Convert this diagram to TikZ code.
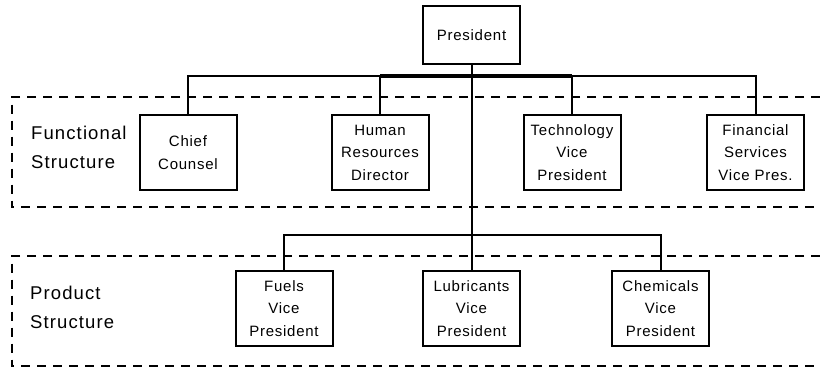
\documentclass[tikz,border=0pt]{standalone}
\usepackage{fontspec}
\setmainfont{Liberation Sans}
\newfontfamily\boxfont[LetterSpace=5]{Liberation Sans}
\newfontfamily\labelfont[LetterSpace=6]{Liberation Sans}
\begin{document}
\begin{tikzpicture}[x=1pt,y=-1pt,
  orgbox/.style={draw, line width=2pt, minimum width=97pt, minimum height=75pt,
    inner sep=0pt, align=center, font=\boxfont\fontsize{15}{22.5}\selectfont},
  topbox/.style={orgbox, minimum height=58pt},
  wire/.style={line width=2pt},
  heavywire/.style={line width=4pt},
  zone/.style={line width=2pt, dash pattern=on 9pt off 7pt},
  zonelabel/.style={anchor=west, inner sep=0pt, align=left,
    font=\labelfont\fontsize{18.5}{29}\selectfont}]
\useasboundingbox (0,0) rectangle (820,368);

% dashed zones (open on the right)
\coordinate (z1a) at (820,97);  \coordinate (z1b) at (11.5,97);
\coordinate (z1c) at (11.5,207); \coordinate (z1d) at (820,207);
\coordinate (z2a) at (820,256); \coordinate (z2b) at (11.5,256);
\coordinate (z2c) at (11.5,366); \coordinate (z2d) at (820,366);
\draw[zone] (z1a) -- (z1b) -- (z1c) -- (z1d);
\draw[zone] (z2a) -- (z2b) -- (z2c) -- (z2d);

\node[zonelabel] (flab) at (31,147.5) {Functional\\Structure};
\node[zonelabel] (plab) at (30,307.5) {Product\\Structure};

% boxes
\node[topbox] (pres) at (471.5,35) {President};
\node[orgbox, fill=white] (cc)   at (188,152.5)   {Chief\\Counsel};
\node[orgbox, fill=white] (hr)   at (380,152.5)   {Human\\Resources\\Director};
\node[orgbox, fill=white] (tech) at (572,152.5)   {Technology\\Vice\\President};
\node[orgbox, fill=white] (fin)  at (755.5,152.5) {Financial\\Services\\Vice Pres.};
\node[orgbox, fill=white] (fuel) at (284,308.5)   {Fuels\\Vice\\President};
\node[orgbox, fill=white] (lub)  at (471.5,308.5) {Lubricants\\Vice\\President};
\node[orgbox, fill=white] (chem) at (660.5,308.5) {Chemicals\\Vice\\President};

% connectors
\coordinate (fbus) at (471.5,76);
\coordinate (pbus) at (471.5,235);
\draw[wire] (cc.north) -- (cc.north |- fbus) -- (fin.north |- fbus) -- (fin.north);
\draw[heavywire] (hr.north |- fbus) -- (tech.north |- fbus);
\draw[wire] (hr.north |- fbus) -- (hr.north);
\draw[wire] (tech.north |- fbus) -- (tech.north);
\draw[wire] (pres.south) -- (lub.north);
\draw[wire] (fuel.north) -- (fuel.north |- pbus) -- (chem.north |- pbus) -- (chem.north);
\end{tikzpicture}
\end{document}
